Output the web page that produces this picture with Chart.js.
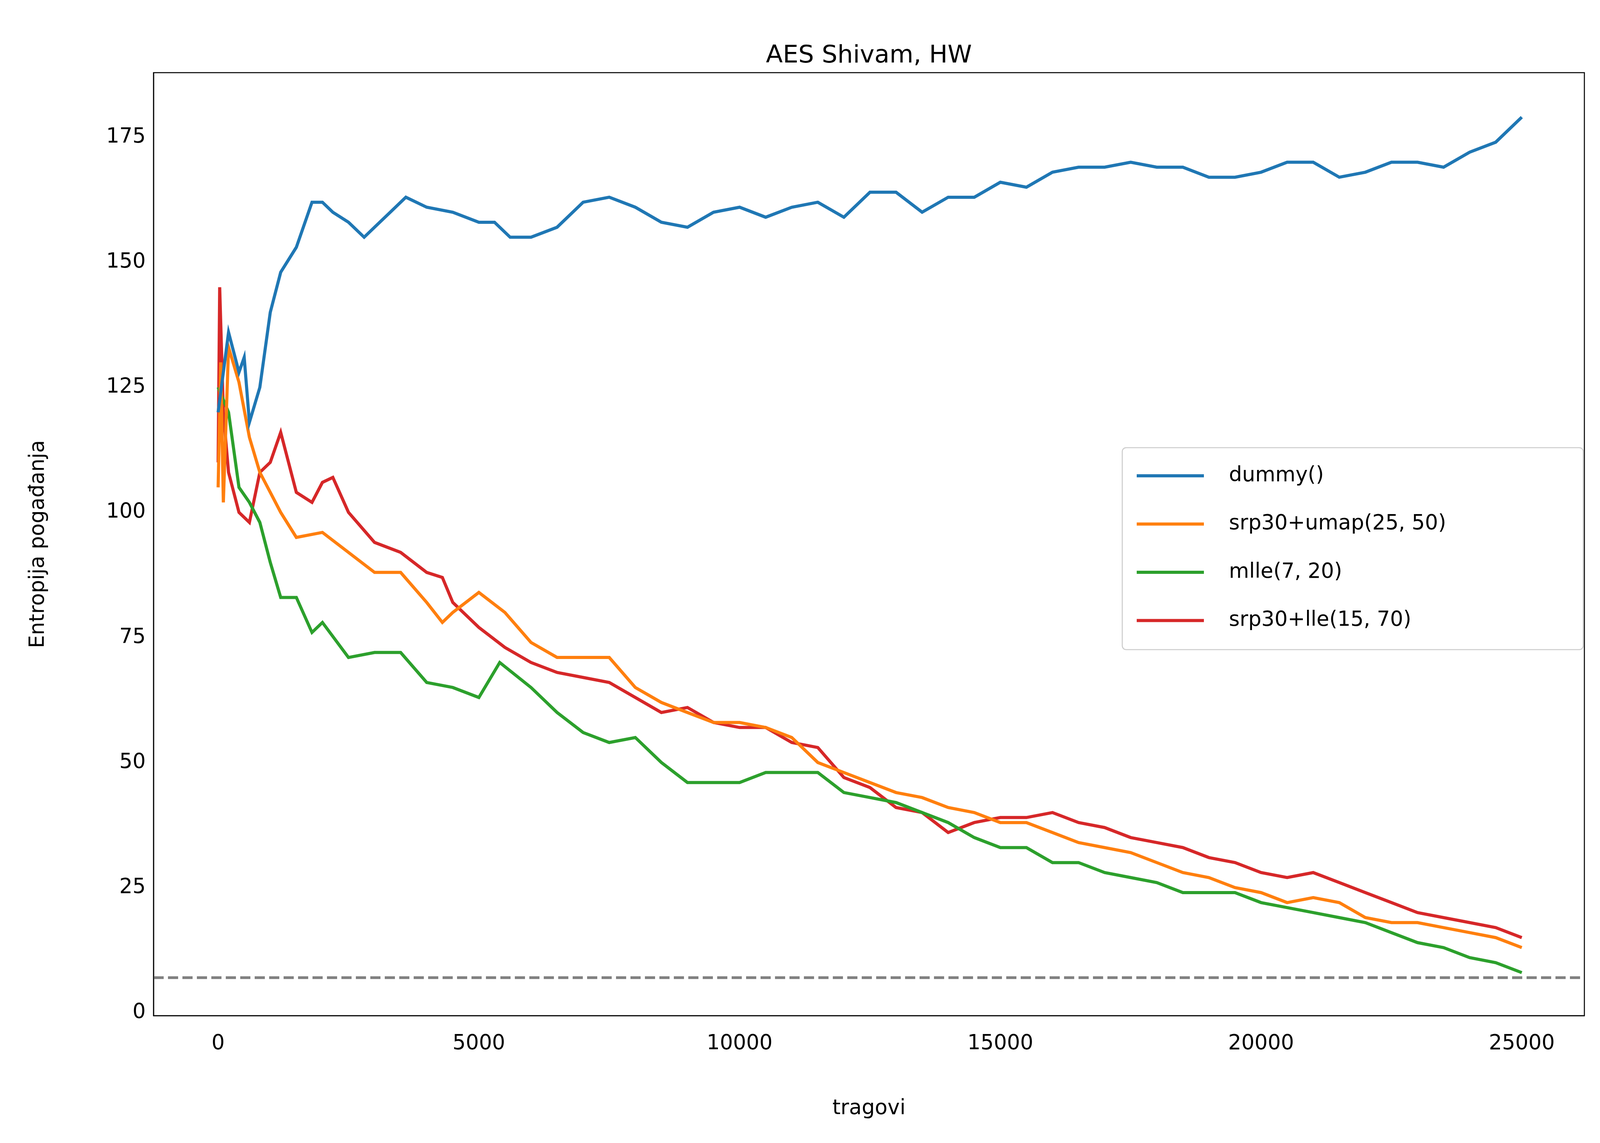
<!DOCTYPE html>
<html><head><meta charset="utf-8">
<script src="https://cdn.jsdelivr.net/npm/chart.js@4"></script>
<style>html,body{margin:0;padding:0;background:#fff}canvas{display:block}</style>
</head><body>
<canvas id="c" width="4138" height="2926" style="width:4138px;height:2926px"></canvas>
<script>
const title = "AES Shivam, HW";
const xLabel = "tragovi";
const yLabel = "Entropija pogađanja";
const xTicks = [0, 5000, 10000, 15000, 20000, 25000];
const yTicks = [0, 25, 50, 75, 100, 125, 150, 175];
const thresholdY = 7;

const dummyT = [0,200,400,500,600,800,1000,1200,1500,1800,2000,2200,2500,2800,3000,3300,3600,4000,4500,5000,5300,5600,6000,6500,7000,7500,8000,8500,9000,9500,10000,10500,11000,11500,12000,12500,13000,13500,14000,14500,15000,15500,16000,16500,17000,17500,18000,18500,19000,19500,20000,20500,21000,21500,22000,22500,23000,23500,24000,24500,25000];
const dummyV = [120,136,128,131,118,125,140,148,153,162,162,160,158,155,157,160,163,161,160,158,158,155,155,157,162,163,161,158,157,160,161,159,161,162,159,164,164,160,163,163,166,165,168,169,169,170,169,169,167,167,168,170,170,167,168,170,170,169,172,174,179];

const umapT = [0,50,100,200,400,600,800,1000,1200,1500,2000,2500,3000,3500,4000,4300,4500,5000,5500,6000,6500,7000,7500,8000,8500,9000,9500,10000,10500,11000,11500,12000,12500,13000,13500,14000,14500,15000,15500,16000,16500,17000,17500,18000,18500,19000,19500,20000,20500,21000,21500,22000,22500,23000,23500,24000,24500,25000];
const umapV = [105,130,102,133,126,115,108,104,100,95,96,92,88,88,82,78,80,84,80,74,71,71,71,65,62,60,58,58,57,55,50,48,46,44,43,41,40,38,38,36,34,33,32,30,28,27,25,24,22,23,22,19,18,18,17,16,15,13];

const mlleT = [0,200,400,600,800,1000,1200,1500,1800,2000,2500,3000,3500,4000,4500,5000,5400,6000,6500,7000,7500,8000,8500,9000,9500,10000,10500,11000,11500,12000,12500,13000,13500,14000,14500,15000,15500,16000,16500,17000,17500,18000,18500,19000,19500,20000,20500,21000,21500,22000,22500,23000,23500,24000,24500,25000];
const mlleV = [125,120,105,102,98,90,83,83,76,78,71,72,72,66,65,63,70,65,60,56,54,55,50,46,46,46,48,48,48,44,43,42,40,38,35,33,33,30,30,28,27,26,24,24,24,22,21,20,19,18,16,14,13,11,10,8];

const lleT = [0,30,100,200,400,600,800,1000,1200,1500,1800,2000,2200,2500,3000,3500,4000,4300,4500,5000,5500,6000,6500,7000,7500,8000,8500,9000,9500,10000,10500,11000,11500,12000,12500,13000,13500,14000,14500,15000,15500,16000,16500,17000,17500,18000,18500,19000,19500,20000,20500,21000,21500,22000,22500,23000,23500,24000,24500,25000];
const lleV = [110,145,120,108,100,98,108,110,116,104,102,106,107,100,94,92,88,87,82,77,73,70,68,67,66,63,60,61,58,57,57,54,53,47,45,41,40,36,38,39,39,40,38,37,35,34,33,31,30,28,27,28,26,24,22,20,19,18,17,15];

const xMin = -1239, xMax = 26200, yMin = -0.6, yMax = 187.9;
const pts = (t, v) => t.map((x, i) => ({x, y: v[i]}));
const series = [
  {label: "dummy()", data: pts(dummyT, dummyV), color: "#1f77b4"},
  {label: "srp30+umap(25, 50)", data: pts(umapT, umapV), color: "#ff7f0e"},
  {label: "mlle(7, 20)", data: pts(mlleT, mlleV), color: "#2ca02c"},
  {label: "srp30+lle(15, 70)", data: pts(lleT, lleV), color: "#d62728"},
];
const FONT = "'DejaVu Sans'";

const datasets = series.map(s => ({label: s.label, data: s.data, borderColor: s.color,
  borderWidth: 8, pointRadius: 0, tension: 0, fill: false}));
datasets.push({label: "_thr", data: [{x: xMin, y: thresholdY}, {x: xMax, y: thresholdY}],
  borderColor: "#808080", borderWidth: 7, borderDash: [26, 11], pointRadius: 0});

const frame = {
  id: "frame",
  afterDraw(chart) {
    const {ctx, chartArea: a} = chart;
    ctx.save();
    ctx.strokeStyle = "#000"; ctx.lineWidth = 2.6;
    ctx.strokeRect(a.left, a.top, a.right - a.left, a.bottom - a.top);
    ctx.fillStyle = "#000"; ctx.font = "63px " + FONT;
    ctx.textAlign = "center"; ctx.textBaseline = "alphabetic";
    ctx.fillText(title, (a.left + a.right) / 2, 160);
    // axis titles
    ctx.font = "53px " + FONT; ctx.textBaseline = "middle";
    ctx.fillText(xLabel, (a.left + a.right) / 2, 2838);
    ctx.save();
    ctx.translate(98, (a.top + a.bottom) / 2); ctx.rotate(-Math.PI / 2);
    ctx.fillText(yLabel, 0, 0);
    ctx.restore();
    // legend
    const bx = 2873, by = 1146, bw = 1180, bh = 517;
    ctx.fillStyle = "rgba(255,255,255,0.8)";
    ctx.strokeStyle = "#cccccc"; ctx.lineWidth = 2.6;
    ctx.beginPath(); ctx.roundRect(bx, by, bw, bh, 10); ctx.fill(); ctx.stroke();
    ctx.font = "53px " + FONT; ctx.textAlign = "left"; ctx.textBaseline = "middle";
    series.forEach((s, i) => {
      const y = 1218 + i * 123.5;
      ctx.strokeStyle = s.color; ctx.lineWidth = 8;
      ctx.beginPath(); ctx.moveTo(2910, y); ctx.lineTo(3082, y); ctx.stroke();
      ctx.fillStyle = "#000"; ctx.fillText(s.label, 3146, y);
    });
    ctx.restore();
  }
};

new Chart(document.getElementById("c"), {
  type: "line",
  data: {datasets},
  options: {
    responsive: false, animation: false,
    layout: {padding: {top: 186, right: 82, left: 0, bottom: 0}},
    plugins: {legend: {display: false}, tooltip: {enabled: false}},
    scales: {
      x: {type: "linear", min: xMin, max: xMax,
        afterBuildTicks: s => { s.ticks = xTicks.map(v => ({value: v})); },
        afterFit: s => { s.height = 326; },
        grid: {display: false, drawTicks: true, tickLength: 10, tickColor: "#000"},
        border: {color: "#000", width: 2.6},
        ticks: {color: "#000", font: {family: FONT, size: 53}, padding: 30, maxRotation: 0, autoSkip: false,
          callback: v => String(v)}
      },
      y: {type: "linear", min: yMin, max: yMax,
        afterBuildTicks: s => { s.ticks = yTicks.map(v => ({value: v})); },
        afterFit: s => { s.width = 393; },
        grid: {display: false, drawTicks: true, tickLength: 10, tickColor: "#000"},
        border: {color: "#000", width: 2.6},
        ticks: {color: "#000", font: {family: FONT, size: 53}, padding: 10, autoSkip: false}
      }
    }
  },
  plugins: [frame]
});
</script>
</body></html>
